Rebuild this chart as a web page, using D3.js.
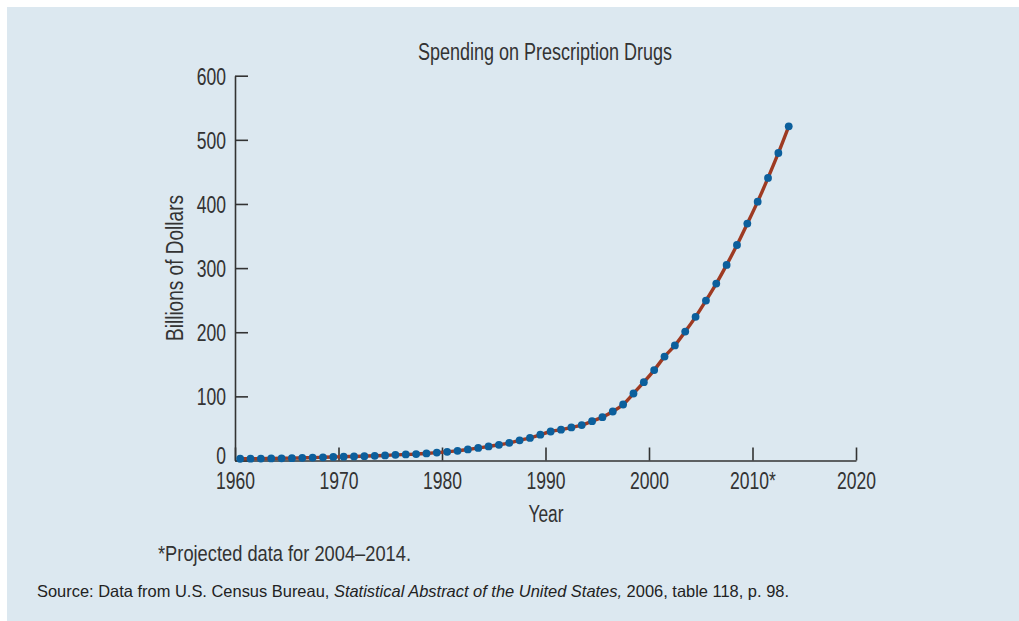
<!DOCTYPE html>
<html>
<head>
<meta charset="utf-8">
<script src="https://cdn.jsdelivr.net/npm/d3@7"></script>
<style>
  html, body { margin: 0; padding: 0; background: #ffffff; }
  svg { display: block; }
  .cond { font-family: "Liberation Sans", Arial, sans-serif; fill: #333333; }
  .src { font-family: "Liberation Sans", "Noto Sans", sans-serif; fill: #222222; }
</style>
</head>
<body>
<script>
// ---- Data ----
const title = "Spending on Prescription Drugs";
const years = [
  1960, 1961, 1962, 1963, 1964, 1965, 1966, 1967, 1968, 1969,
  1970, 1971, 1972, 1973, 1974, 1975, 1976, 1977, 1978, 1979,
  1980, 1981, 1982, 1983, 1984, 1985, 1986, 1987, 1988, 1989,
  1990, 1991, 1992, 1993, 1994, 1995, 1996, 1997, 1998, 1999,
  2000, 2001, 2002, 2003, 2004, 2005, 2006, 2007, 2008, 2009,
  2010, 2011, 2012, 2013
];
const spending = [
  2.7, 2.9, 3.0, 3.2, 3.4, 3.7, 4.1, 4.5, 5.0, 5.5,
  6.0, 6.3, 6.8, 7.3, 7.9, 8.8, 9.4, 10.0, 11.0, 12.3,
  13.6, 15.1, 17.2, 19.6, 21.9, 24.5, 27.6, 31.5, 35.2, 40.2,
  45.2, 48.0, 51.5, 55.3, 61.3, 67.6, 76.4, 87.3, 104.5, 122.1,
  141.0, 162.0, 179.5, 201.0, 224.0, 249.3, 275.8, 305.0, 336.0, 369.4,
  403.6, 440.6, 479.5, 521.1
];
const xTickValues = [1960, 1970, 1980, 1990, 2000, 2010, 2020];
const xTickLabels = ["1960", "1970", "1980", "1990", "2000", "2010*", "2020"];
const yTickValues = [0, 100, 200, 300, 400, 500, 600];
const xTitle = "Year";
const yTitle = "Billions of Dollars";
const footnote = "*Projected data for 2004\u20132014.";
const sourcePlain1 = "Source: Data from U.S. Census Bureau, ";
const sourceItalic = "Statistical Abstract of the United States,";
const sourcePlain2 = " 2006, table 118, p. 98.";

// ---- Layout ----
const W = 1019, H = 621;
const svg = d3.select("body").append("svg").attr("width", W).attr("height", H);

svg.append("rect").attr("x", 7).attr("y", 7).attr("width", W - 7).attr("height", H - 7)
  .attr("fill", "#dce8f0");

const x = d3.scaleLinear().domain([1960, 2020]).range([235, 856]);
const y = d3.scaleLinear().domain([0, 600]).range([460.5, 75.7]);

const data = years.map((yr, i) => ({ year: yr, value: spending[i] }));

// emulate a condensed face: squeeze to target width or by a factor
function narrow(sel, target, factor) {
  sel.each(function () {
    const w = this.getComputedTextLength();
    d3.select(this).attr("textLength", target != null ? target : w * (factor || 0.75))
      .attr("lengthAdjust", "spacingAndGlyphs");
  });
}

// Title
svg.append("text").attr("class", "cond")
  .attr("x", 545).attr("y", 60)
  .attr("text-anchor", "middle").attr("font-size", 23)
  .text(title).call(narrow, 254);

// Y axis
const yAxis = d3.axisLeft(y).tickValues(yTickValues)
  .tickSizeInner(-13).tickSizeOuter(0).tickPadding(9);
const gy = svg.append("g").attr("transform", `translate(${x(1960)},0)`).call(yAxis)
  .attr("font-family", null).attr("font-size", null);
gy.select(".domain").attr("stroke", "#333").attr("stroke-width", 1.6);
gy.selectAll(".tick line").attr("stroke", "#333").attr("stroke-width", 1.6);
gy.selectAll(".tick text").attr("class", "cond").attr("font-size", 24)
  .attr("fill", "#333").attr("dy", d => d === 0 ? "0.12em" : "0.35em");
narrow(gy.selectAll(".tick text"), null, 0.73);

// X axis
const xAxis = d3.axisBottom(x).tickValues(xTickValues)
  .tickFormat((d, i) => xTickLabels[i])
  .tickSizeInner(-13).tickSizeOuter(0).tickPadding(11);
const gx = svg.append("g").attr("transform", `translate(0,${y(0)})`).call(xAxis)
  .attr("font-family", null).attr("font-size", null);
gx.select(".domain").attr("stroke", "#333").attr("stroke-width", 1.6);
gx.selectAll(".tick line").attr("stroke", "#333").attr("stroke-width", 1.6);
gx.selectAll(".tick text").attr("class", "cond").attr("font-size", 24).attr("fill", "#333");
narrow(gx.selectAll(".tick text"), null, 0.73);

// Axis titles
svg.append("text").attr("class", "cond")
  .attr("x", 546).attr("y", 522).attr("text-anchor", "middle").attr("font-size", 23)
  .text(xTitle).call(narrow, 35);
svg.append("text").attr("class", "cond")
  .attr("transform", `translate(183,268) rotate(-90)`)
  .attr("text-anchor", "middle").attr("font-size", 23)
  .text(yTitle).call(narrow, 146);

// Line (points are plotted at mid-year)
const line = d3.line().x(d => x(d.year + 0.5)).y(d => y(d.value)).curve(d3.curveMonotoneX);
svg.append("path").datum(data)
  .attr("d", line).attr("fill", "none")
  .attr("stroke", "#9e3a22").attr("stroke-width", 3.4);

svg.append("g").selectAll("circle").data(data).join("circle")
  .attr("cx", d => x(d.year + 0.5)).attr("cy", d => y(d.value))
  .attr("r", 3.9).attr("fill", "#0c5f9c");

// Footnote
svg.append("text").attr("class", "cond")
  .attr("x", 158).attr("y", 561).attr("font-size", 22)
  .text(footnote).call(narrow, 253);

// Source
const src = svg.append("text").attr("class", "src")
  .attr("x", 37).attr("y", 597).attr("font-size", 16.5);
src.append("tspan").text(sourcePlain1);
src.append("tspan").attr("font-style", "italic").text(sourceItalic);
src.append("tspan").text(sourcePlain2);
src.call(narrow, 752);
</script>
</body>
</html>
